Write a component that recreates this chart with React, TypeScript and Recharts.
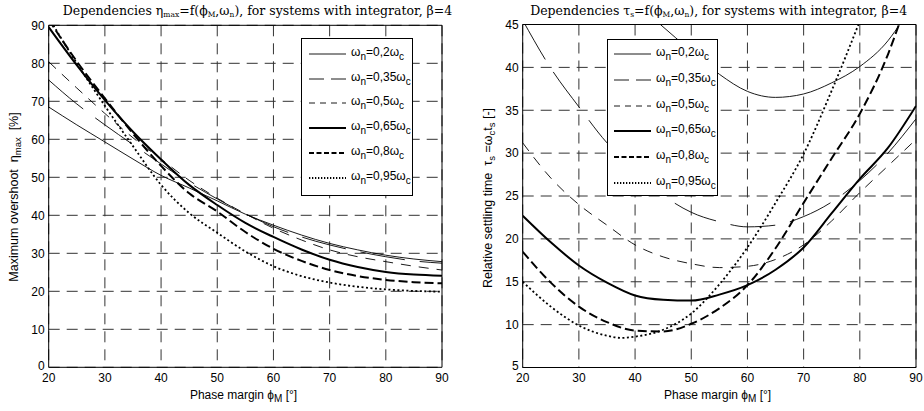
import React from 'react';
import { LineChart, Line, XAxis, YAxis, CartesianGrid, ReferenceArea } from 'recharts';

// ---------- Left chart: maximum overshoot eta_max [%] ----------
const phaseX = [20, 25, 30, 35, 40, 45, 50, 55, 60, 65, 70, 75, 80, 85, 90];
const eta02 = [68.5, 63.8, 59.3, 54.8, 50.5, 47.2, 43.8, 40.3, 37.4, 34.8, 32.6, 30.9, 29.5, 28.5, 27.8];
const eta035 = [75.6, 69.3, 63.8, 58.6, 53.5, 48.6, 44.3, 40.4, 37.0, 34.3, 32.2, 30.5, 29.1, 28.0, 27.4];
const eta05 = [80.4, 73.5, 66.8, 60.4, 54.8, 49.2, 44.5, 40.4, 36.6, 33.5, 30.9, 29.1, 27.8, 26.6, 25.6];
const eta065 = [89.5, 79.5, 70.3, 62.0, 54.7, 48.0, 42.7, 38.0, 34.3, 31.0, 28.3, 26.4, 25.1, 24.4, 24.1];
const eta08 = [91.5, 80.5, 70.8, 61.5, 53.0, 45.8, 41.0, 35.6, 31.2, 28.0, 25.6, 24.0, 23.0, 22.4, 22.1];
const eta095 = [92.0, 80.0, 68.8, 58.2, 48.0, 40.6, 35.4, 30.5, 26.6, 24.0, 22.3, 21.2, 20.5, 20.1, 19.9];

// ---------- Right chart: relative settling time tau_s [-] ----------
const tauX02 = [44.5, 50, 55, 60, 65, 70, 75, 80, 85, 87.5];
const tau02 = [45.0, 41.9, 39.2, 37.2, 36.5, 36.9, 38.2, 40.1, 43.1, 45.4];
const tauX = [20, 25, 30, 35, 40, 45, 50, 55, 60, 65, 70, 75, 80, 85, 90];
const tau035 = [45.5, 39.9, 35.4, 31.2, 28.1, 25.1, 23.1, 22.0, 21.4, 21.6, 22.6, 24.3, 26.8, 30.0, 34.0];
const tau05 = [31.2, 27.1, 24.0, 21.6, 19.3, 17.9, 17.1, 16.65, 16.8, 17.6, 19.3, 22.1, 25.4, 28.5, 31.6];
const tau065 = [22.7, 19.6, 16.9, 14.9, 13.4, 12.9, 12.8, 13.5, 14.6, 16.4, 19.0, 23.0, 27.0, 30.6, 35.5];
const tauX08 = [20, 25, 30, 35, 40, 45, 50, 55, 60, 65, 70, 75, 80, 85, 87.5];
const tau08 = [18.5, 14.9, 12.1, 10.3, 9.3, 9.2, 10.1, 11.9, 14.6, 18.9, 24.2, 29.4, 34.6, 41.5, 46.0];
const tauX095 = [20, 25, 30, 35, 37.5, 40, 45, 50, 55, 60, 65, 70, 75, 80];
const tau095 = [15.0, 12.1, 9.9, 8.7, 8.45, 8.6, 9.4, 11.3, 14.7, 19.0, 24.2, 29.9, 37.3, 45.4];

// ---------- ticks & legend labels ----------
const xTicks = [20, 30, 40, 50, 60, 70, 80, 90];
const etaTicks = [0, 10, 20, 30, 40, 50, 60, 70, 80, 90];
const tauTicks = [5, 10, 15, 20, 25, 30, 35, 40, 45];
const wnLabels = ['0,2', '0,35', '0,5', '0,65', '0,8', '0,95'];

const pts = (xs: number[], ys: number[]) => xs.map((x, i) => ({ x, y: ys[i] }));

type Style = { w: number; dash?: string; legDash?: string };
const styles: Style[] = [
  { w: 0.9 },
  { w: 0.9, dash: '45 15', legDash: '15 7' },
  { w: 0.9, dash: '10 8', legDash: '6 5' },
  { w: 2 },
  { w: 2, dash: '9 4', legDash: '5 2.5' },
  { w: 1.8, dash: '2 2.5', legDash: '1.3 1.7' },
];

const leftSeries = [eta02, eta035, eta05, eta065, eta08, eta095].map((ys) => pts(phaseX, ys));
const rightSeries = [
  pts(tauX02, tau02),
  pts(tauX, tau035),
  pts(tauX, tau05),
  pts(tauX, tau065),
  pts(tauX08, tau08),
  pts(tauX095, tau095),
];

const SANS = '"Liberation Sans", Arial, sans-serif';
const SERIF = '"DejaVu Serif", "Liberation Serif", serif';

const Sub = ({ children, size = 9, top = 3 }: any) => (
  <span style={{ fontSize: size, position: 'relative', top }}>{children}</span>
);

const makeYTick = (minVal: number) => (props: any) => {
  const { x, y, payload } = props;
  const shift = payload.value === minVal ? -2 : 0;
  return (
    <text x={x} y={y + shift} dy="0.355em" textAnchor="end" fontSize={12} fill="#000" fontFamily={SANS}>
      {payload.value}
    </text>
  );
};

const XTick = (props: any) => {
  const { x, y, payload } = props;
  return (
    <text x={x} y={y} dy="0.71em" textAnchor="middle" fontSize={12} fill="#000" fontFamily={SANS}>
      {payload.value}
    </text>
  );
};

function LegendBox({ left, top, width, height, rowTop, rowGap, lineX, textX }: any) {
  return (
    <div
      style={{
        position: 'absolute', left, top, width, height, background: '#fff',
        border: '1px solid #000', boxSizing: 'border-box', fontFamily: SANS, fontSize: 12,
      }}
    >
      {wnLabels.map((lab, i) => {
        const s = styles[i];
        const cy = rowTop + i * rowGap;
        return (
          <React.Fragment key={lab}>
            <svg style={{ position: 'absolute', left: lineX, top: cy - 3 }} width={38} height={6}>
              <line x1={0} x2={37} y1={3} y2={3} stroke="#000" strokeWidth={s.w} strokeDasharray={s.legDash} />
            </svg>
            <div style={{ position: 'absolute', left: textX, top: cy - 9, whiteSpace: 'nowrap', lineHeight: '14px' }}>
              ω<Sub size={10} top={4}>n</Sub>={lab}ω<Sub size={10} top={4}>c</Sub>
            </div>
          </React.Fragment>
        );
      })}
    </div>
  );
}

function Chart({ series, yDomain, yTicks, margin }: any) {
  return (
    <LineChart width={462} height={411} margin={margin}>
      <CartesianGrid stroke="#333" strokeDasharray="11 7" strokeWidth={1} />
      <XAxis
        type="number" dataKey="x" domain={[20, 90]} ticks={xTicks} allowDataOverflow
        height={30} tickLine={false} axisLine={false} tickSize={4} tickMargin={2}
        tick={XTick} interval={0}
      />
      <YAxis
        type="number" dataKey="y" domain={yDomain} ticks={yTicks} allowDataOverflow
        width={40} tickLine={false} axisLine={false} tickSize={3} tickMargin={1}
        tick={makeYTick(yDomain[0])} interval={0}
      />
      {series.map((d: any, i: number) => (
        <Line
          key={i} data={d} dataKey="y" type="monotone" dot={false} activeDot={false}
          stroke="#000" strokeWidth={styles[i].w} strokeDasharray={styles[i].dash}
          isAnimationActive={false} strokeLinecap="butt"
        />
      ))}
      <ReferenceArea x1={20} x2={90} y1={yDomain[0]} y2={yDomain[1]} fill="none" fillOpacity={0} stroke="#000" strokeWidth={1} />
    </LineChart>
  );
}

const titleStyle: any = {
  position: 'absolute', top: 3, transform: 'translateX(-50%)', whiteSpace: 'nowrap',
  fontFamily: SERIF, fontSize: 12.5, lineHeight: '15px',
};

export default function App() {
  return (
    <div style={{ position: 'absolute', left: 0, top: 0, width: 924, height: 411, background: '#fff', overflow: 'hidden' }}>
      <div style={{ position: 'absolute', left: 0, top: 0 }}>
        <Chart series={leftSeries} yDomain={[0, 90]} yTicks={etaTicks}
          margin={{ top: 25.3, right: 20, bottom: 13.7, left: 8.7 }} />
      </div>
      <div style={{ position: 'absolute', left: 462, top: 0 }}>
        <Chart series={rightSeries} yDomain={[5, 45]} yTicks={tauTicks}
          margin={{ top: 24.5, right: 8, bottom: 13.5, left: 20.7 }} />
      </div>

      {/* titles */}
      <div style={{ ...titleStyle, left: 257.5 }}>
        Dependencies η<Sub size={7.5} top={2}>max</Sub>=f(ϕ<Sub size={7.5} top={2}>M</Sub>,ω<Sub size={7.5} top={2}>n</Sub>), for systems with integrator, β=4
      </div>
      <div style={{ ...titleStyle, left: 718.7 }}>
        Dependencies τ<Sub size={7.5} top={2}>s</Sub>=f(ϕ<Sub size={7.5} top={2}>M</Sub>,ω<Sub size={7.5} top={2}>n</Sub>), for systems with integrator, β=4
      </div>

      {/* x labels */}
      {[243.5, 717.6].map((cx) => (
        <div key={cx} style={{ position: 'absolute', left: cx, top: 388, transform: 'translateX(-50%)', whiteSpace: 'nowrap', fontFamily: SANS, fontSize: 12, lineHeight: '14px' }}>
          Phase margin ϕ<Sub size={10}>M</Sub> [°]
        </div>
      ))}

      {/* y labels */}
      <div style={{ position: 'absolute', left: 13.5, top: 197, transform: 'translate(-50%,-50%) rotate(-90deg)', whiteSpace: 'nowrap', fontFamily: SANS, fontSize: 12.5, lineHeight: '14px' }}>
        Maximum overshoot&nbsp;&nbsp;η<Sub size={9.5}>max</Sub>&nbsp;&nbsp;[%]
      </div>
      <div style={{ position: 'absolute', left: 488, top: 198, transform: 'translate(-50%,-50%) rotate(-90deg)', whiteSpace: 'nowrap', fontFamily: SANS, fontSize: 12.5, lineHeight: '14px' }}>
        Relative settling time&nbsp;&nbsp;τ<Sub size={9.5}>s</Sub>&nbsp;=ω<Sub size={9.5}>c</Sub>t<Sub size={9.5}>s</Sub>&nbsp;[-]
      </div>

      {/* legends */}
      <LegendBox left={301} top={38} width={112} height={158} rowTop={15} rowGap={24.7} lineX={7} textX={49} />
      <LegendBox left={607} top={39} width={111} height={157} rowTop={14} rowGap={25.8} lineX={6} textX={48} />
    </div>
  );
}
